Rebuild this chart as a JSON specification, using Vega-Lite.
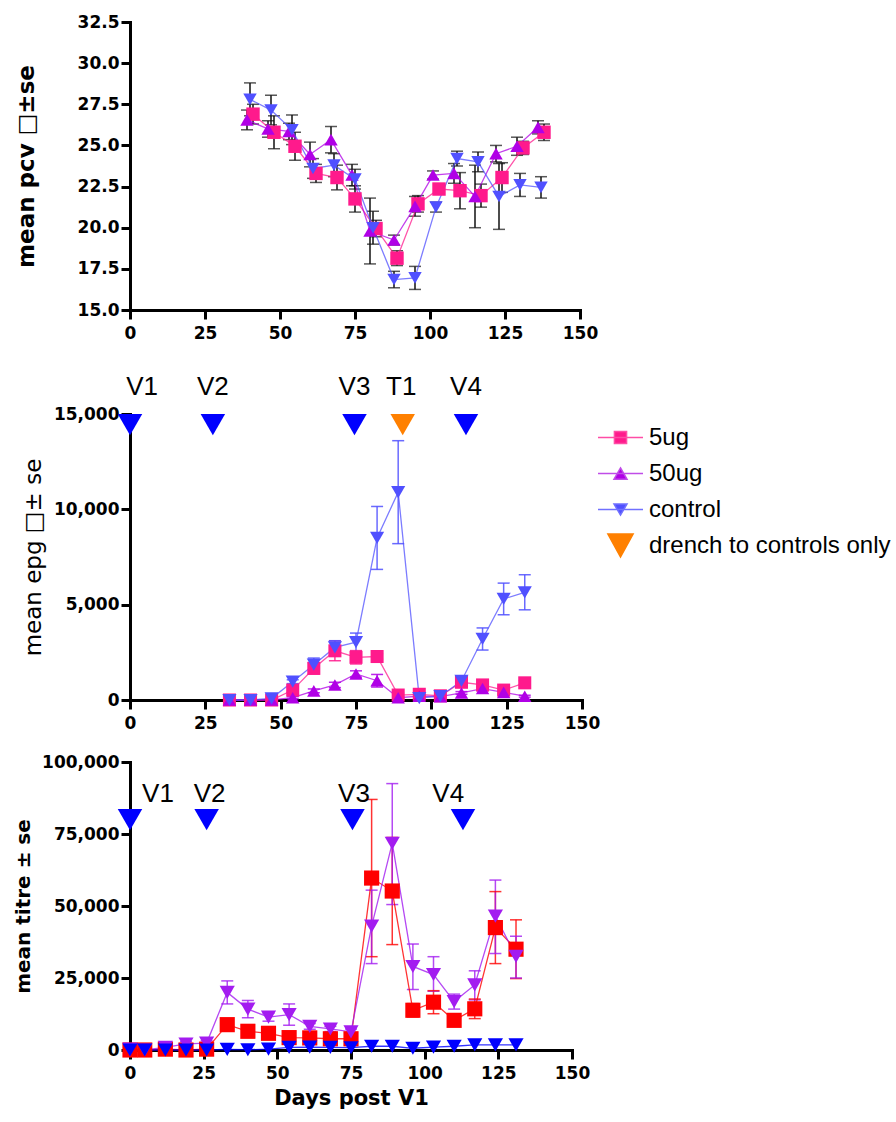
{
  "$schema": "https://vega.github.io/schema/vega-lite/v6.json",
  "background": "white",
  "padding": {"left": 13, "top": 13, "right": 0, "bottom": 5},
  "spacing": 22,
  "resolve": {"scale": {"color": "independent", "shape": "independent", "fill": "independent", "stroke": "independent"}, "legend": {"fill": "independent", "stroke": "independent", "shape": "independent", "color": "independent"}},
  "config": {
    "view": {"stroke": null},
    "axis": {
      "labelFont": "DejaVu Sans", "labelFontWeight": "bold", "labelFontSize": 17, "labelColor": "#000",
      "titleFont": "DejaVu Sans", "titleFontWeight": "bold", "titleFontSize": 20, "titleColor": "#000",
      "domainColor": "#000", "domainWidth": 3, "domainCap": "square",
      "tickColor": "#000", "tickWidth": 3, "tickSize": 9,
      "grid": false, "labelFlush": false, "labelOverlap": false
    },
    "axisX": {"labelPadding": 6},
    "axisY": {"labelPadding": 2}
  },
  "datasets": {
    "pcv": [
      {"group":"5ug","day":41,"mean":26.9,"lo":26.3,"hi":27.5},
      {"group":"5ug","day":48,"mean":25.8,"lo":24.8,"hi":26.8},
      {"group":"5ug","day":55,"mean":24.95,"lo":24.1,"hi":25.8},
      {"group":"5ug","day":62,"mean":23.3,"lo":22.75,"hi":23.85},
      {"group":"5ug","day":69,"mean":23.05,"lo":22.3,"hi":23.8},
      {"group":"5ug","day":75,"mean":21.75,"lo":20.95,"hi":22.55},
      {"group":"5ug","day":82,"mean":19.95,"lo":19.45,"hi":20.45},
      {"group":"5ug","day":89,"mean":18.15,"lo":17.7,"hi":18.6},
      {"group":"5ug","day":96,"mean":21.45,"lo":20.95,"hi":21.95},
      {"group":"5ug","day":103,"mean":22.35,"lo":22.05,"hi":22.65},
      {"group":"5ug","day":110,"mean":22.25,"lo":21.15,"hi":23.35},
      {"group":"5ug","day":117,"mean":21.95,"lo":21.25,"hi":22.65},
      {"group":"5ug","day":124,"mean":23.05,"lo":22.15,"hi":23.95},
      {"group":"5ug","day":131,"mean":24.85,"lo":24.45,"hi":25.25},
      {"group":"5ug","day":138,"mean":25.8,"lo":25.3,"hi":26.3},
      {"group":"50ug","day":39,"mean":26.55,"lo":25.95,"hi":27.15},
      {"group":"50ug","day":46,"mean":26.0,"lo":25.5,"hi":26.5},
      {"group":"50ug","day":53,"mean":25.85,"lo":25.35,"hi":26.35},
      {"group":"50ug","day":60,"mean":24.45,"lo":23.7,"hi":25.2},
      {"group":"50ug","day":67,"mean":25.35,"lo":24.55,"hi":26.15},
      {"group":"50ug","day":74,"mean":23.2,"lo":22.55,"hi":23.85},
      {"group":"50ug","day":80,"mean":19.8,"lo":17.8,"hi":21.8},
      {"group":"50ug","day":88,"mean":19.25,"lo":18.95,"hi":19.55},
      {"group":"50ug","day":95,"mean":21.3,"lo":20.7,"hi":21.9},
      {"group":"50ug","day":101,"mean":23.2,"lo":22.95,"hi":23.45},
      {"group":"50ug","day":108,"mean":23.3,"lo":22.7,"hi":23.9},
      {"group":"50ug","day":115,"mean":21.9,"lo":20.0,"hi":23.8},
      {"group":"50ug","day":122,"mean":24.5,"lo":24.0,"hi":25.0},
      {"group":"50ug","day":129,"mean":24.95,"lo":24.4,"hi":25.5},
      {"group":"50ug","day":136,"mean":26.1,"lo":25.7,"hi":26.5},
      {"group":"control","day":40,"mean":27.8,"lo":26.8,"hi":28.8},
      {"group":"control","day":47,"mean":27.15,"lo":26.25,"hi":28.05},
      {"group":"control","day":54,"mean":25.95,"lo":25.05,"hi":26.85},
      {"group":"control","day":61,"mean":23.6,"lo":23.0,"hi":24.2},
      {"group":"control","day":68,"mean":23.8,"lo":23.1,"hi":24.5},
      {"group":"control","day":75,"mean":22.95,"lo":22.35,"hi":23.55},
      {"group":"control","day":81,"mean":20.0,"lo":19.0,"hi":21.0},
      {"group":"control","day":88,"mean":16.85,"lo":16.35,"hi":17.35},
      {"group":"control","day":95,"mean":16.95,"lo":16.25,"hi":17.65},
      {"group":"control","day":102,"mean":21.25,"lo":20.95,"hi":21.55},
      {"group":"control","day":109,"mean":24.2,"lo":23.75,"hi":24.65},
      {"group":"control","day":116,"mean":24.0,"lo":23.4,"hi":24.6},
      {"group":"control","day":123,"mean":21.9,"lo":19.9,"hi":23.9},
      {"group":"control","day":130,"mean":22.6,"lo":21.9,"hi":23.3},
      {"group":"control","day":137,"mean":22.45,"lo":21.8,"hi":23.1}
    ],
    "epg": [
      {"group":"5ug","day":33,"mean":0},
      {"group":"5ug","day":40,"mean":0},
      {"group":"5ug","day":47,"mean":0},
      {"group":"5ug","day":54,"mean":520,"lo":400,"hi":640},
      {"group":"5ug","day":61,"mean":1660,"lo":1360,"hi":1960},
      {"group":"5ug","day":68,"mean":2580,"lo":2060,"hi":3100},
      {"group":"5ug","day":75,"mean":2240,"lo":1890,"hi":2590},
      {"group":"5ug","day":82,"mean":2280,"lo":2130,"hi":2430},
      {"group":"5ug","day":89,"mean":260,"lo":160,"hi":360},
      {"group":"5ug","day":96,"mean":300,"lo":200,"hi":400},
      {"group":"5ug","day":103,"mean":220,"lo":150,"hi":290},
      {"group":"5ug","day":110,"mean":930,"lo":830,"hi":1030},
      {"group":"5ug","day":117,"mean":790,"lo":690,"hi":890},
      {"group":"5ug","day":124,"mean":520,"lo":420,"hi":620},
      {"group":"5ug","day":131,"mean":900,"lo":780,"hi":1020},
      {"group":"50ug","day":33,"mean":0},
      {"group":"50ug","day":40,"mean":0},
      {"group":"50ug","day":47,"mean":0},
      {"group":"50ug","day":54,"mean":120,"lo":60,"hi":180},
      {"group":"50ug","day":61,"mean":480,"lo":380,"hi":580},
      {"group":"50ug","day":68,"mean":790,"lo":650,"hi":930},
      {"group":"50ug","day":75,"mean":1365,"lo":1200,"hi":1530},
      {"group":"50ug","day":82,"mean":1010,"lo":680,"hi":1340},
      {"group":"50ug","day":89,"mean":120,"lo":60,"hi":180},
      {"group":"50ug","day":96,"mean":200,"lo":150,"hi":250},
      {"group":"50ug","day":103,"mean":180,"lo":130,"hi":230},
      {"group":"50ug","day":110,"mean":370,"lo":300,"hi":440},
      {"group":"50ug","day":117,"mean":600,"lo":480,"hi":720},
      {"group":"50ug","day":124,"mean":400,"lo":320,"hi":480},
      {"group":"50ug","day":131,"mean":200,"lo":150,"hi":250},
      {"group":"control","day":33,"mean":0},
      {"group":"control","day":40,"mean":0},
      {"group":"control","day":47,"mean":90,"lo":40,"hi":140},
      {"group":"control","day":54,"mean":960,"lo":860,"hi":1060},
      {"group":"control","day":61,"mean":1850,"lo":1500,"hi":2200},
      {"group":"control","day":68,"mean":2760,"lo":2410,"hi":3110},
      {"group":"control","day":75,"mean":3030,"lo":2550,"hi":3510},
      {"group":"control","day":82,"mean":8500,"lo":6850,"hi":10150},
      {"group":"control","day":89,"mean":10900,"lo":8200,"hi":13600},
      {"group":"control","day":96,"mean":100},
      {"group":"control","day":103,"mean":200},
      {"group":"control","day":110,"mean":1000,"lo":900,"hi":1100},
      {"group":"control","day":117,"mean":3200,"lo":2620,"hi":3780},
      {"group":"control","day":124,"mean":5300,"lo":4470,"hi":6130},
      {"group":"control","day":131,"mean":5650,"lo":4730,"hi":6570}
    ],
    "titre": [
      {"group":"5ug","day":0,"mean":0},
      {"group":"5ug","day":5,"mean":0},
      {"group":"5ug","day":12,"mean":300},
      {"group":"5ug","day":19,"mean":0},
      {"group":"5ug","day":26,"mean":300},
      {"group":"5ug","day":33,"mean":8800,"lo":7300,"hi":10300},
      {"group":"5ug","day":40,"mean":6500,"lo":5700,"hi":7300},
      {"group":"5ug","day":47,"mean":5800,"lo":5200,"hi":6400},
      {"group":"5ug","day":54,"mean":4300,"lo":3800,"hi":4800},
      {"group":"5ug","day":61,"mean":4200,"lo":3700,"hi":4700},
      {"group":"5ug","day":68,"mean":3900,"lo":3400,"hi":4400},
      {"group":"5ug","day":75,"mean":3900,"lo":3400,"hi":4400},
      {"group":"5ug","day":82,"mean":59700,"lo":32400,"hi":87000},
      {"group":"5ug","day":89,"mean":55200,"lo":36600,"hi":73800},
      {"group":"5ug","day":96,"mean":13800,"lo":11500,"hi":16100},
      {"group":"5ug","day":103,"mean":16600,"lo":12600,"hi":20600},
      {"group":"5ug","day":110,"mean":10300,"lo":9300,"hi":11300},
      {"group":"5ug","day":117,"mean":14300,"lo":10900,"hi":17700},
      {"group":"5ug","day":124,"mean":42500,"lo":30000,"hi":55000},
      {"group":"5ug","day":131,"mean":35000,"lo":24800,"hi":45200},
      {"group":"50ug","day":0,"mean":300},
      {"group":"50ug","day":5,"mean":0},
      {"group":"50ug","day":12,"mean":900},
      {"group":"50ug","day":19,"mean":2100,"lo":1300,"hi":2900},
      {"group":"50ug","day":26,"mean":2400,"lo":1600,"hi":3200},
      {"group":"50ug","day":33,"mean":20000,"lo":16000,"hi":24000},
      {"group":"50ug","day":40,"mean":14200,"lo":11200,"hi":17200},
      {"group":"50ug","day":47,"mean":11400,"lo":10000,"hi":12800},
      {"group":"50ug","day":54,"mean":12300,"lo":8600,"hi":16000},
      {"group":"50ug","day":61,"mean":8200,"lo":7200,"hi":9200},
      {"group":"50ug","day":68,"mean":7300,"lo":6400,"hi":8200},
      {"group":"50ug","day":75,"mean":6300,"lo":5300,"hi":7300},
      {"group":"50ug","day":82,"mean":43000,"lo":30000,"hi":55500},
      {"group":"50ug","day":89,"mean":71800,"lo":50500,"hi":92500},
      {"group":"50ug","day":96,"mean":29000,"lo":21000,"hi":36800},
      {"group":"50ug","day":103,"mean":26200,"lo":20400,"hi":32400},
      {"group":"50ug","day":110,"mean":16800,"lo":14200,"hi":19400},
      {"group":"50ug","day":117,"mean":22600,"lo":17400,"hi":27500},
      {"group":"50ug","day":124,"mean":46500,"lo":33500,"hi":59000},
      {"group":"50ug","day":131,"mean":32500,"lo":25000,"hi":39500},
      {"group":"control","day":0,"mean":0},
      {"group":"control","day":5,"mean":0},
      {"group":"control","day":12,"mean":0},
      {"group":"control","day":19,"mean":0},
      {"group":"control","day":26,"mean":0},
      {"group":"control","day":33,"mean":200},
      {"group":"control","day":40,"mean":100},
      {"group":"control","day":47,"mean":300},
      {"group":"control","day":54,"mean":900},
      {"group":"control","day":61,"mean":1000},
      {"group":"control","day":68,"mean":900},
      {"group":"control","day":75,"mean":800},
      {"group":"control","day":82,"mean":1300},
      {"group":"control","day":89,"mean":1300},
      {"group":"control","day":96,"mean":600},
      {"group":"control","day":103,"mean":1000},
      {"group":"control","day":110,"mean":1300},
      {"group":"control","day":117,"mean":1800},
      {"group":"control","day":124,"mean":1800},
      {"group":"control","day":131,"mean":1800}
    ],
    "events_epg": [
      {"label":"V1","day":0,"label_day":4,"level":15000},
      {"label":"V2","day":27.5,"label_day":27.5,"level":15000},
      {"label":"V3","day":74.5,"label_day":74.5,"level":15000},
      {"label":"T1","day":90.5,"label_day":90,"level":15000},
      {"label":"V4","day":111.5,"label_day":111.5,"level":15000}
    ],
    "events_titre": [
      {"label":"V1","day":0,"label_day":9.5,"level":80000},
      {"label":"V2","day":26,"label_day":27,"level":80000},
      {"label":"V3","day":75.5,"label_day":76,"level":80000},
      {"label":"V4","day":113,"label_day":108,"level":80000}
    ]
  },
  "vconcat": [
    {
      "width": 450, "height": 288,
      "data": {"name": "pcv"},
      "encoding": {
        "x": {"field": "day", "type": "quantitative", "scale": {"domain": [0, 150], "nice": false},
              "axis": {"values": [0, 25, 50, 75, 100, 125, 150], "title": " ", "titleFontSize": 11, "titlePadding": 0}}
      },
      "layer": [
        {"mark": {"type": "rule", "color": "#111", "strokeWidth": 1.5},
         "encoding": {
           "y": {"field": "lo", "type": "quantitative", "scale": {"domain": [15, 32.5], "nice": false, "zero": false},
                 "axis": {"values": [15, 17.5, 20, 22.5, 25, 27.5, 30, 32.5], "format": ".1f", "title": "mean pcv □±se", "titleFontSize": 23, "titlePadding": 39}},
           "y2": {"field": "hi"}}},
        {"mark": {"type": "tick", "orient": "horizontal", "size": 12, "thickness": 1.5, "color": "#111"},
         "encoding": {"y": {"field": "lo", "type": "quantitative", "scale": {"domain": [15, 32.5], "nice": false, "zero": false}}}},
        {"mark": {"type": "tick", "orient": "horizontal", "size": 12, "thickness": 1.5, "color": "#111"},
         "encoding": {"y": {"field": "hi", "type": "quantitative", "scale": {"domain": [15, 32.5], "nice": false, "zero": false}}}},
        {"mark": {"type": "line", "strokeWidth": 1.3, "opacity": 0.75},
         "encoding": {
           "y": {"field": "mean", "type": "quantitative", "scale": {"domain": [15, 32.5], "nice": false, "zero": false}},
           "color": {"field": "group", "type": "nominal", "scale": {"domain": ["5ug", "50ug", "control"], "range": ["#ff1a8c", "#b000e6", "#5050ff"]}, "legend": null}}},
        {"mark": {"type": "point", "filled": true, "opacity": 1, "size": 180},
         "encoding": {
           "y": {"field": "mean", "type": "quantitative", "scale": {"domain": [15, 32.5], "nice": false, "zero": false}},
           "color": {"field": "group", "type": "nominal", "scale": {"domain": ["5ug", "50ug", "control"], "range": ["#ff1a8c", "#b000e6", "#5050ff"]}, "legend": null},
           "shape": {"field": "group", "type": "nominal", "scale": {"domain": ["5ug", "50ug", "control"], "range": ["square", "triangle-up", "triangle-down"]}, "legend": null}}}
      ]
    },
    {
      "width": 452, "height": 286,
      "data": {"name": "epg"},
      "encoding": {
        "x": {"field": "day", "type": "quantitative", "scale": {"domain": [0, 150], "nice": false},
              "axis": {"values": [0, 25, 50, 75, 100, 125, 150], "title": null}}
      },
      "layer": [
        {"mark": {"type": "rule", "strokeWidth": 1.5, "opacity": 0.85},
         "encoding": {
           "y": {"field": "lo", "type": "quantitative", "scale": {"domain": [0, 15000], "nice": false},
                 "axis": {"values": [0, 5000, 10000, 15000], "format": ",.0f", "title": "mean epg □± se", "titleFontWeight": "normal", "titleFontSize": 23, "titlePadding": 8}},
           "y2": {"field": "hi"},
           "color": {"field": "group", "type": "nominal", "scale": {"domain": ["5ug", "50ug", "control"], "range": ["#ff1a8c", "#b000e6", "#5050ff"]}, "legend": null}}},
        {"mark": {"type": "tick", "orient": "horizontal", "size": 12, "thickness": 1.5, "opacity": 0.85},
         "encoding": {
           "y": {"field": "lo", "type": "quantitative", "scale": {"domain": [0, 15000], "nice": false}},
           "color": {"field": "group", "type": "nominal", "scale": {"domain": ["5ug", "50ug", "control"], "range": ["#ff1a8c", "#b000e6", "#5050ff"]}, "legend": null}}},
        {"mark": {"type": "tick", "orient": "horizontal", "size": 12, "thickness": 1.5, "opacity": 0.85},
         "encoding": {
           "y": {"field": "hi", "type": "quantitative", "scale": {"domain": [0, 15000], "nice": false}},
           "color": {"field": "group", "type": "nominal", "scale": {"domain": ["5ug", "50ug", "control"], "range": ["#ff1a8c", "#b000e6", "#5050ff"]}, "legend": null}}},
        {"mark": {"type": "line", "strokeWidth": 1.3, "opacity": 0.75},
         "encoding": {
           "y": {"field": "mean", "type": "quantitative", "scale": {"domain": [0, 15000], "nice": false}},
           "color": {"field": "group", "type": "nominal", "scale": {"domain": ["5ug", "50ug", "control"], "range": ["#ff1a8c", "#b000e6", "#5050ff"]}, "legend": null}}},
        {"transform": [{"filter": "datum.group === '5ug'"}],
         "mark": {"type": "point", "filled": true, "opacity": 1, "size": 170, "shape": "square", "color": "#ff1a8c"},
         "encoding": {"y": {"field": "mean", "type": "quantitative", "scale": {"domain": [0, 15000], "nice": false}}}},
        {"transform": [{"filter": "datum.group === '50ug'"}],
         "mark": {"type": "point", "filled": true, "opacity": 1, "size": 180, "shape": "triangle-up", "color": "#b000e6"},
         "encoding": {"y": {"field": "mean", "type": "quantitative", "scale": {"domain": [0, 15000], "nice": false}}}},
        {"transform": [{"filter": "datum.group === 'control'"}],
         "mark": {"type": "point", "filled": true, "opacity": 1, "size": 200, "shape": "triangle-down", "color": "#5050ff"},
         "encoding": {"y": {"field": "mean", "type": "quantitative", "scale": {"domain": [0, 15000], "nice": false}}}},
        {"data": {"values": []},
         "mark": {"type": "point", "filled": true, "opacity": 1},
         "encoding": {
           "fill": {"field": "group", "type": "nominal",
             "scale": {"domain": ["5ug", "50ug", "control", "drench to controls only"], "range": ["#ff1a8c", "#b000e6", "#5050ff", "#ff8000"]},
             "legend": {"title": null, "orient": "right", "offset": 15, "padding": 0, "symbolSize": 2025, "symbolStrokeWidth": 1.5, "rowPadding": -8,
                        "labelFont": "Liberation Sans", "labelFontSize": 24, "labelColor": "#000", "labelOffset": 5, "labelLimit": 400}},
           "stroke": {"field": "group", "type": "nominal",
             "scale": {"domain": ["5ug", "50ug", "control", "drench to controls only"], "range": ["#ff4da6", "#c04de8", "#7070ff", "#ff8000"]},
             "legend": {"title": null, "orient": "right", "offset": 15, "padding": 0, "symbolSize": 2025, "symbolStrokeWidth": 1.5, "rowPadding": -8,
                        "labelFont": "Liberation Sans", "labelFontSize": 24, "labelColor": "#000", "labelOffset": 5, "labelLimit": 400}},
           "shape": {"field": "group", "type": "nominal",
             "scale": {"domain": ["5ug", "50ug", "control", "drench to controls only"],
                       "range": ["M-1,0L1,0M-0.27,-0.27L0.27,-0.27L0.27,0.27L-0.27,0.27Z",
                                 "M-1,0L1,0M0,-0.25L0.29,0.25L-0.29,0.25Z",
                                 "M-1,0L1,0M-0.29,-0.25L0.29,-0.25L0,0.25Z",
                                 "M-0.56,-0.51L0.56,-0.51L0,0.51Z"]},
             "legend": {"title": null, "orient": "right", "offset": 15, "padding": 0, "symbolSize": 2025, "symbolStrokeWidth": 1.5, "rowPadding": -8,
                        "labelFont": "Liberation Sans", "labelFontSize": 24, "labelColor": "#000", "labelOffset": 5, "labelLimit": 400}}}},
        {"data": {"name": "events_epg"},
         "mark": {"type": "point", "shape": "triangle-down", "size": 600, "filled": true, "opacity": 1, "yOffset": 10.6, "clip": false},
         "encoding": {
           "y": {"field": "level", "type": "quantitative", "scale": {"domain": [0, 15000], "nice": false}},
           "color": {"condition": {"test": "datum.label === 'T1'", "value": "#ff8000"}, "value": "#0000ff"}}},
        {"data": {"name": "events_epg"},
         "mark": {"type": "text", "font": "Liberation Sans", "fontSize": 26, "color": "#000", "baseline": "middle", "align": "center", "dy": -27, "clip": false},
         "encoding": {
           "x": {"field": "label_day", "type": "quantitative"},
           "y": {"field": "level", "type": "quantitative", "scale": {"domain": [0, 15000], "nice": false}},
           "text": {"field": "label"}}}
      ]
    },
    {
      "width": 442, "height": 288,
      "data": {"name": "titre"},
      "encoding": {
        "x": {"field": "day", "type": "quantitative", "scale": {"domain": [0, 150], "nice": false},
              "axis": {"values": [0, 25, 50, 75, 100, 125, 150], "title": "Days post V1", "titleFontSize": 21, "titlePadding": 6}}
      },
      "layer": [
        {"mark": {"type": "rule", "strokeWidth": 1.5, "opacity": 0.8},
         "encoding": {
           "y": {"field": "lo", "type": "quantitative", "scale": {"domain": [0, 100000], "nice": false},
                 "axis": {"values": [0, 25000, 50000, 75000, 100000], "format": ",.0f", "title": "mean titre ± se", "titlePadding": 8}},
           "y2": {"field": "hi"},
           "color": {"field": "group", "type": "nominal", "scale": {"domain": ["5ug", "50ug", "control"], "range": ["#ff0000", "#a31cf0", "#0000ff"]}, "legend": null}}},
        {"mark": {"type": "tick", "orient": "horizontal", "size": 12, "thickness": 1.5, "opacity": 0.8},
         "encoding": {
           "y": {"field": "lo", "type": "quantitative", "scale": {"domain": [0, 100000], "nice": false}},
           "color": {"field": "group", "type": "nominal", "scale": {"domain": ["5ug", "50ug", "control"], "range": ["#ff0000", "#a31cf0", "#0000ff"]}, "legend": null}}},
        {"mark": {"type": "tick", "orient": "horizontal", "size": 12, "thickness": 1.5, "opacity": 0.8},
         "encoding": {
           "y": {"field": "hi", "type": "quantitative", "scale": {"domain": [0, 100000], "nice": false}},
           "color": {"field": "group", "type": "nominal", "scale": {"domain": ["5ug", "50ug", "control"], "range": ["#ff0000", "#a31cf0", "#0000ff"]}, "legend": null}}},
        {"mark": {"type": "line", "strokeWidth": 1.3, "opacity": 0.8},
         "encoding": {
           "y": {"field": "mean", "type": "quantitative", "scale": {"domain": [0, 100000], "nice": false}},
           "color": {"field": "group", "type": "nominal", "scale": {"domain": ["5ug", "50ug", "control"], "range": ["#ff0000", "#a31cf0", "#0000ff"]}, "legend": null}}},
        {"mark": {"type": "point", "filled": true, "opacity": 1, "size": 230},
         "encoding": {
           "y": {"field": "mean", "type": "quantitative", "scale": {"domain": [0, 100000], "nice": false}},
           "color": {"field": "group", "type": "nominal", "scale": {"domain": ["5ug", "50ug", "control"], "range": ["#ff0000", "#a31cf0", "#0000ff"]}, "legend": null},
           "shape": {"field": "group", "type": "nominal", "scale": {"domain": ["5ug", "50ug", "control"], "range": ["square", "triangle-down", "triangle-down"]}, "legend": null}}},
        {"data": {"name": "events_titre"},
         "mark": {"type": "point", "shape": "triangle-down", "size": 600, "filled": true, "opacity": 1, "color": "#0000ff", "clip": false},
         "encoding": {
           "y": {"field": "level", "type": "quantitative", "scale": {"domain": [0, 100000], "nice": false}}}},
        {"data": {"name": "events_titre"},
         "mark": {"type": "text", "font": "Liberation Sans", "fontSize": 26, "color": "#000", "baseline": "middle", "align": "center", "dy": -26, "clip": false},
         "encoding": {
           "x": {"field": "label_day", "type": "quantitative"},
           "y": {"field": "level", "type": "quantitative", "scale": {"domain": [0, 100000], "nice": false}},
           "text": {"field": "label"}}}
      ]
    }
  ]
}
